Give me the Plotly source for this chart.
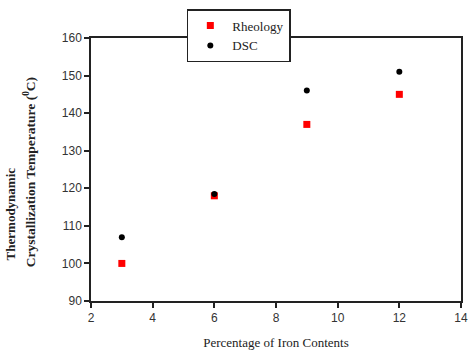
import plotly.graph_objects as go

iron = [3, 6, 9, 12]
rheology = [100, 118, 137, 145]
dsc = [107, 118.5, 146, 151]

x_ticks = [2, 4, 6, 8, 10, 12, 14]
y_ticks = [90, 100, 110, 120, 130, 140, 150, 160]

fig = go.Figure()
fig.add_trace(go.Scatter(x=iron, y=rheology, mode="markers", name="Rheology",
                         marker=dict(symbol="square", size=7, color="#ff0000")))
fig.add_trace(go.Scatter(x=iron, y=dsc, mode="markers", name="DSC",
                         marker=dict(symbol="circle", size=6, color="#000000")))

axis_common = dict(showline=True, linecolor="#222", linewidth=1.5, mirror=True,
                   ticks="outside", ticklen=5, tickwidth=1.5, tickcolor="#222",
                   showgrid=False, zeroline=False, automargin=False,
                   tickfont=dict(family="Liberation Sans, Arial", size=12, color="#333"))

serif = "Liberation Serif, Times New Roman"

fig.update_layout(
    width=470, height=356,
    margin=dict(l=91, r=9, t=38, b=55, autoexpand=False),
    paper_bgcolor="white", plot_bgcolor="white",
    xaxis=dict(range=[2, 14], tickvals=x_ticks, **axis_common,
               title=dict(text="Percentage of Iron Contents", standoff=14,
                          font=dict(family=serif, size=13, color="#222"))),
    yaxis=dict(range=[90, 160], tickvals=y_ticks, **axis_common),
    legend=dict(x=0.259, y=1.11, xanchor="left", yanchor="top",
                bgcolor="white", bordercolor="#222", borderwidth=1.5,
                font=dict(family=serif, size=13, color="#222"),
                itemwidth=34, tracegroupgap=0, entrywidth=104, entrywidthmode="pixels"),
    showlegend=True,
    annotations=[
        dict(text="<b>Thermodynamic</b>", xref="paper", yref="paper",
             x=-0.219, y=0.333, xanchor="center", yanchor="middle", textangle=-90,
             showarrow=False, font=dict(family=serif, size=13, color="#222")),
        dict(text="<b>Crystallization Temperature (<sup>0</sup>C)</b>", xref="paper", yref="paper",
             x=-0.167, y=0.49, xanchor="center", yanchor="middle", textangle=-90,
             showarrow=False, font=dict(family=serif, size=13.5, color="#222")),
    ],
)

fig.write_html("out.html", config={"displayModeBar": False},
               post_script="document.body.style.margin='0';")
